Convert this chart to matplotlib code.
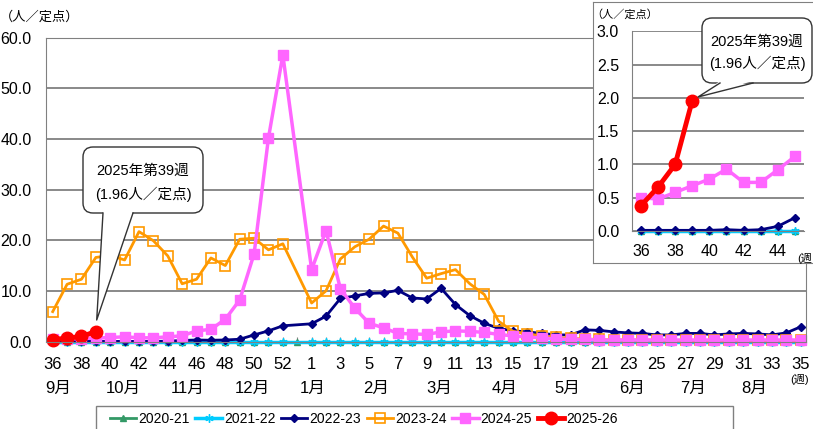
import numpy as np
import matplotlib.pyplot as plt
import matplotlib.transforms as mtransforms
from matplotlib.patches import FancyBboxPatch, Polygon, Rectangle
from matplotlib.lines import Line2D

plt.rcParams['font.family'] = ['Liberation Sans', 'Noto Sans CJK JP']

nan = np.nan

# week axis: 36..53 then 1..35
weeks = list(range(36, 54)) + list(range(1, 36))
month_labels = ['9月', '10月', '11月', '12月', '1月', '2月', '3月', '4月', '5月', '6月', '7月', '8月']
month_pos = [0.37, 4.9, 9.4, 13.9, 18.1, 22.5, 26.9, 31.4, 35.8, 40.3, 44.5, 48.8]

seasons = ['2020-21', '2021-22', '2022-23', '2023-24', '2024-25', '2025-26']

s2020 = [0.0, 0.0, 0.0, 0.0, 0.0, 0.0, 0.0, 0.0, 0.0, 0.0, 0.0, 0.0, 0.0, 0.0, 0.0, 0.0, 0.0, 0.0,
         0.0, 0.0, 0.0, 0.0, 0.0, 0.0, 0.0, 0.0, 0.0, 0.0, 0.0, 0.0, 0.0, 0.0, 0.0, 0.0, 0.0,
         0.0, 0.0, 0.0, 0.0, 0.0, 0.0, 0.0, 0.0, 0.0, 0.0, 0.0, 0.0, 0.0, 0.0, 0.0, 0.0, 0.0, 0.0]
s2021 = [0.0, 0.0, 0.0, 0.0, 0.0, 0.0, 0.0, 0.0, 0.0, 0.0, 0.0, 0.0, 0.0, 0.0, 0.0, 0.0, 0.0, nan,
         0.0, 0.0, 0.0, 0.0, 0.0, 0.0, 0.0, 0.0, 0.0, 0.0, 0.0, 0.0, 0.0, 0.0, 0.0, 0.0, 0.0,
         0.0, 0.0, 0.0, 0.0, 0.0, 0.0, 0.0, 0.0, 0.0, 0.0, 0.0, 0.0, 0.0, 0.0, 0.0, 0.0, 0.0, 0.0]
s2022 = [0.01, 0.01, 0.01, 0.01, 0.01, 0.02, 0.01, 0.02, 0.07, 0.2, 0.3, 0.25, 0.3, 0.45, 1.3, 2.1, 3.1, nan,
         3.5, 5.0, 8.5, 9.0, 9.5, 9.6, 10.1, 8.6, 8.4, 10.5, 7.3, 5.1, 3.6, 2.6, 2.1, 1.9, 1.6,
         1.3, 1.3, 2.3, 2.2, 1.9, 1.7, 1.6, 1.3, 1.3, 1.6, 1.6, 1.3, 1.5, 1.6, 1.5, 1.3, 1.7, 2.9]
s2023 = [5.9, 11.3, 12.3, 16.6, 17.0, 16.1, 21.7, 19.9, 16.9, 11.4, 12.3, 16.5, 15.0, 20.2, 20.4, 18.1, 19.3, nan,
         7.6, 10.0, 16.3, 18.7, 20.2, 22.8, 21.4, 16.7, 12.5, 13.4, 14.2, 11.4, 9.3, 4.0, 2.0, 1.5, 1.1,
         0.8, 0.6, 0.5, 0.4, 0.3, 0.3, 0.3, 0.3, 0.2, 0.2, 0.2, 0.2, 0.2, 0.2, 0.2, 0.2, 0.2, 0.2]
s2024 = [0.50, 0.48, 0.58, 0.68, 0.78, 0.93, 0.73, 0.73, 0.92, 1.12, 2.1, 2.4, 4.4, 8.2, 17.3, 40.2, 56.6, nan,
         14.2, 21.9, 10.4, 6.6, 3.6, 2.7, 1.6, 1.5, 1.4, 1.9, 2.1, 2.0, 1.8, 1.4, 1.1, 0.9, 0.7,
         0.5, 0.4, 0.4, 0.3, 0.3, 0.3, 0.3, 0.3, 0.3, 0.3, 0.3, 0.3, 0.3, 0.3, 0.3, 0.3, 0.3, 0.3]
s2025 = [0.38, 0.66, 1.00, 1.96]

series = [s2020, s2021, s2022, s2023, s2024, s2025]
styles = [
    dict(color='#339966', marker='^', ms=5, lw=2),
    dict(color='#00CCFF', marker=(6, 2, 0), ms=6, lw=2.5),
    dict(color='#000080', marker='D', ms=4, lw=2),
    dict(color='#FF9900', marker='s', ms=6.5, lw=2, mfc='none', mew=1.2),
    dict(color='#FF66FF', marker='s', ms=6.5, lw=2.5),
    dict(color='#FF0000', marker='o', ms=9, lw=3.5),
]

W, H = 813, 429
fig = plt.figure(figsize=(W / 100, H / 100), dpi=100)
# pixel coordinates, origin top-left
px = mtransforms.Affine2D().scale(1 / 100, -1 / 100).translate(0, H / 100) + fig.dpi_scale_trans

grid_c = '#808080'

# ---- main chart
ax = fig.add_axes([46 / W, (H - 341.5) / H, (806 - 46) / W, (341.5 - 37.7) / H])
x = np.arange(len(weeks))
for vals, st in zip(series, styles):
    y = np.array(vals, dtype=float)
    xx = x[:len(y)]
    m = ~np.isnan(y)
    ax.plot(xx[m], y[m], clip_on=False, **st)

ax.set_xlim(-0.466, 52.37)
ax.set_ylim(0, 60)
ax.set_yticks(np.arange(0, 61, 10))
ax.set_yticklabels([f'{v:.1f}' for v in np.arange(0, 61, 10)], fontsize=11.5)
ax.set_xticks(x)
ax.set_xticklabels([str(w) if i % 2 == 0 else '' for i, w in enumerate(weeks)], fontsize=12)
ax.tick_params(axis='x', direction='in', length=3.5, color=grid_c, pad=11)
ax.tick_params(axis='y', length=0, pad=10.5)
ax.yaxis.grid(True, color=grid_c, lw=1.3)
ax.set_axisbelow(True)
for s in ax.spines.values():
    s.set_color(grid_c)

xmix = mtransforms.blended_transform_factory(ax.transData, px)
for lab, p in zip(month_labels, month_pos):
    ax.text(p, 388, lab, transform=xmix, ha='center', va='center', fontsize=12, clip_on=False)

fig.text(40, 17, '（人／定点）', transform=px, ha='center', va='center', fontsize=9.5)
fig.text(800, 379, '(週)', transform=px, ha='center', va='center', fontsize=8)


def callout(x0, y0, x1, y1, tail, lines, zo):
    box = FancyBboxPatch((x0, y0), x1 - x0, y1 - y0, boxstyle='round,pad=0,rounding_size=10',
                         transform=px, fc='white', ec='#333333', lw=1, zorder=zo)
    fig.add_artist(box)
    (ax_, ay_), (tx, ty), (bx, by) = tail
    fig.add_artist(Polygon([(ax_, ay_ - 2), (tx, ty), (bx, by - 2)], closed=True, transform=px,
                           fc='white', ec='none', zorder=zo + 0.1))
    fig.add_artist(Line2D([ax_, tx, bx], [ay_, ty, by], transform=px, color='#333333', lw=1,
                          zorder=zo + 0.2))
    cx = (x0 + x1) / 2
    for txt, yy in lines:
        fig.text(cx, yy, txt, transform=px, ha='center', va='center', fontsize=10.5, zorder=zo + 0.3)


# callout on main chart
callout(83, 147, 203, 213, [(103, 213), (96.7, 320), (133, 213)],
        [('2025年第39週', 171), ('(1.96人／定点)', 194)], 5)

# ---- inset
box_ax = fig.add_axes([593 / W, (H - 263) / H, 0.4, (263 - 2) / H])
box_ax.set_zorder(1)
box_ax.set_xticks([])
box_ax.set_yticks([])
for s in box_ax.spines.values():
    s.set_color(grid_c)

ins = fig.add_axes([631.7 / W, (H - 231) / H, (804 - 631.7) / W, (231 - 31.3) / H])
ins.set_zorder(2)
ins.patch.set_alpha(0)
n_in = 10
wk_in = np.array(weeks[:n_in])
for vals, st in zip(series, styles):
    if vals is s2023:
        continue
    y = np.array(vals[:n_in], dtype=float)
    ins.plot(wk_in[:len(y)], y, clip_on=False, **st)
ins.set_xlim(35.46, 45.53)
ins.set_ylim(0, 3)
ins.set_yticks(np.arange(0, 3.01, 0.5))
ins.set_yticklabels([f'{v:.1f}' for v in np.arange(0, 3.01, 0.5)], fontsize=11.5)
ins.set_xticks(range(36, 46, 2))
ins.set_xticklabels([str(w) for w in range(36, 46, 2)], fontsize=11.5)
ins.tick_params(length=0)
ins.tick_params(axis='y', pad=9)
ins.tick_params(axis='x', pad=9)
ins.yaxis.grid(True, color=grid_c, lw=1.3)
ins.set_axisbelow(True)
ins.spines['top'].set_visible(False)
ins.spines['right'].set_visible(False)
ins.spines['left'].set_color(grid_c)
ins.spines['bottom'].set_color(grid_c)

fig.text(625, 14, '（人／定点）', transform=px, ha='center', va='center', fontsize=8, zorder=6)
fig.text(797, 258, '(週', transform=px, ha='left', va='center', fontsize=8, zorder=6)

callout(702, 18, 812, 83, [(720, 83), (698, 97), (753, 83)],
        [('2025年第39週', 42), ('(1.96人／定点)', 63)], 6)

# ---- legend
fig.add_artist(Rectangle((96, 406), 733 - 96, 40, transform=px, fc='white', ec=grid_c, lw=1, zorder=7))
handles = [Line2D([], [], **st) for st in styles]
leg = fig.legend(handles, seasons, ncol=6, loc='center left',
                 bbox_to_anchor=(110 / W, 1 - 419 / H), frameon=False, fontsize=10,
                 borderpad=0, handlelength=1.9, handletextpad=0.15, columnspacing=0.4,
                 numpoints=1, borderaxespad=0)
leg.set_zorder(8)

fig.savefig('out.png', dpi=100)
